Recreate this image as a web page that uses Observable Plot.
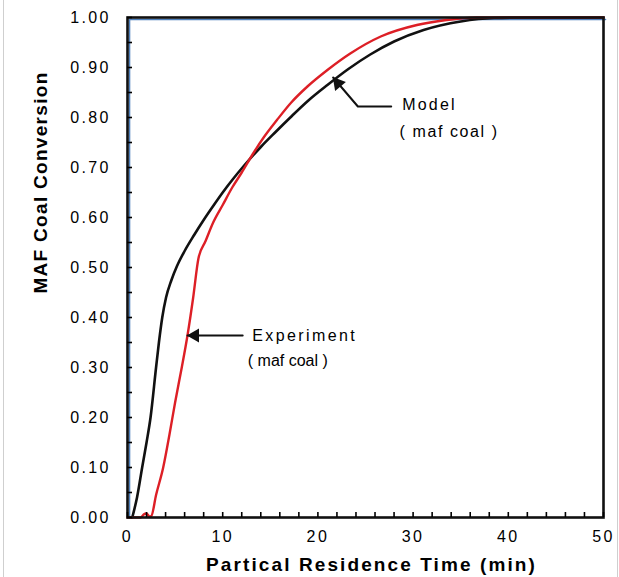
<!DOCTYPE html>
<html>
<head>
<meta charset="utf-8">
<script src="https://cdn.jsdelivr.net/npm/d3@7"></script>
<script src="https://cdn.jsdelivr.net/npm/@observablehq/plot@0.6"></script>
<style>
  html, body { margin: 0; padding: 0; background: #fff; }
  #wrap { position: relative; width: 619px; height: 577px; overflow: hidden; }
  .edge { position: absolute; top: 0; width: 1px; height: 577px; background: #cfcfcf; }
</style>
</head>
<body>
<div id="wrap">
  <div id="chart"></div>
  <div class="edge" style="left:3px"></div>
  <div class="edge" style="left:617px"></div>
</div>
<script>
// ---- Data ----
const modelTime = [0.5, 1.0, 1.54, 2.0, 2.42, 3.0, 3.3, 3.65, 4.05, 4.6, 5.2, 6.0, 7.0, 8.0, 9.0, 10.0, 11.0, 12.3, 14.0, 15.5, 17.1, 19.0, 21.0, 23.2, 25.5, 28.0, 31.1, 35.0, 38.5, 42.0, 50.0];
const modelConv = [0.0, 0.04, 0.10, 0.15, 0.20, 0.30, 0.35, 0.40, 0.44, 0.474, 0.503, 0.533, 0.565, 0.595, 0.623, 0.65, 0.675, 0.705, 0.741, 0.77, 0.80, 0.834, 0.865, 0.897, 0.926, 0.952, 0.975, 0.992, 0.999, 1.0, 1.0];

const expTime = [0.0, 1.4, 1.7, 2.0, 2.3, 2.5, 3.0, 3.75, 4.4, 5.0, 5.7, 6.3, 6.9, 7.45, 8.2, 9.0, 10.0, 11.0, 12.0, 13.1, 14.3, 15.7, 17.2, 18.9, 21.0, 23.4, 26.6, 30.4, 33.5, 36.7, 50.0];
const expConv = [0.0, 0.0, 0.006, 0.008, 0.002, 0.003, 0.045, 0.10, 0.165, 0.23, 0.30, 0.364, 0.44, 0.518, 0.553, 0.59, 0.625, 0.66, 0.69, 0.725, 0.76, 0.795, 0.83, 0.862, 0.895, 0.928, 0.962, 0.985, 0.995, 1.0, 1.0];

const blueTime = [0, 0, 50];
const blueConv = [0.004, 1.0, 1.0];

const xTicks = [0, 10, 20, 30, 40, 50];
const xMinorTicks = [0, 2, 4, 6, 8, 10, 12, 14, 16, 18, 20, 22, 24, 26, 28, 30, 32, 34, 36, 38, 40, 42, 44, 46, 48, 50];
const yTicks = [0, 0.1, 0.2, 0.3, 0.4, 0.5, 0.6, 0.7, 0.8, 0.9, 1.0];
const yMinorTicks = [0, 0.05, 0.1, 0.15, 0.2, 0.25, 0.3, 0.35, 0.4, 0.45, 0.5, 0.55, 0.6, 0.65, 0.7, 0.75, 0.8, 0.85, 0.9, 0.95, 1.0];

const xTitle = "Partical Residence Time (min)";
const yTitle = "MAF Coal Conversion";

// annotations
const labelText = ["Model", "( maf coal )", "Experiment", "( maf coal )"];
const labelTime = [28.85, 28.57, 13.1, 12.64];
const labelConv = [0.826, 0.772, 0.364, 0.314];
const labelSpacing = [2.2, 1.6, 2.4, 0];

const modelArrowTime = [27.7, 24.2, 21.6];
const modelArrowConv = [0.822, 0.822, 0.88];
const expArrowTime = [12.1, 6.3];
const expArrowConv = [0.364, 0.364];

// ---- Build tables ----
const model = modelTime.map((t, i) => ({t, c: modelConv[i]}));
const exp = expTime.map((t, i) => ({t, c: expConv[i]}));
const blue = blueTime.map((t, i) => ({t, c: blueConv[i]}));
const modelArrow = modelArrowTime.map((t, i) => ({t, c: modelArrowConv[i]}));
const expArrow = expArrowTime.map((t, i) => ({t, c: expArrowConv[i]}));

const labelMarks = labelText.map((s, i) =>
  Plot.text([{s, t: labelTime[i], c: labelConv[i]}], {x: "t", y: "c", text: "s", textAnchor: "start", lineAnchor: "middle", fontSize: 16})
);

const chart = Plot.plot({
  width: 619,
  height: 577,
  marginLeft: 127,
  marginRight: 16,
  marginTop: 17,
  marginBottom: 60,
  style: {fontFamily: "'Liberation Sans', Arial, sans-serif", color: "#000", background: "#fff"},
  x: {domain: [0, 50]},
  y: {domain: [0, 1]},
  marks: [
    Plot.line(blue, {x: "t", y: "c", stroke: "#4f81bd", strokeWidth: 1.6, dx: 2, dy: 2}),
    Plot.line(model, {x: "t", y: "c", stroke: "#111", strokeWidth: 2.6, curve: "monotone-x"}),
    Plot.line(exp, {x: "t", y: "c", stroke: "#dd1f26", strokeWidth: 2.4, curve: "monotone-x"}),
    Plot.frame({stroke: "#111", strokeWidth: 2.6}),
    Plot.axisX({ticks: xMinorTicks, tickSize: -5, tickFormat: () => "", strokeWidth: 1.6, label: null}),
    Plot.axisY({ticks: yMinorTicks, tickSize: -5, tickFormat: () => "", strokeWidth: 1.6, label: null}),
    Plot.axisX({ticks: xTicks, tickSize: 0, tickPadding: 13, fontSize: 16, label: null}),
    Plot.axisY({ticks: yTicks, tickSize: 0, tickPadding: 19, fontSize: 16, tickFormat: d => d.toFixed(2), label: null}),
    Plot.text([xTitle], {frameAnchor: "bottom", textAnchor: "middle", dx: 6, dy: 47, lineAnchor: "middle", fontSize: 19, fontWeight: "bold"}),
    Plot.text([yTitle], {frameAnchor: "left", textAnchor: "middle", rotate: -90, dx: -87, dy: -85, lineAnchor: "middle", fontSize: 19, fontWeight: "bold"}),
    Plot.line(modelArrow, {x: "t", y: "c", stroke: "#111", strokeWidth: 2}),
    Plot.line(expArrow, {x: "t", y: "c", stroke: "#111", strokeWidth: 2}),
    Plot.dot([modelArrow[2]], {x: "t", y: "c", symbol: "triangle", r: 5.2, fill: "#111", stroke: "none", rotate: -39.6, dx: 4.8, dy: 5.8}),
    Plot.dot([expArrow[1]], {x: "t", y: "c", symbol: "triangle", r: 5.2, fill: "#111", stroke: "none", rotate: -90, dx: 7.5}),
    ...labelMarks
  ]
});

document.getElementById("chart").appendChild(chart);

// letter spacing to mimic the stretched original typography
const svg = d3.select(chart);
svg.selectAll('g[aria-label="y-axis tick label"] text').attr("letter-spacing", "2.4px").attr("dx", "2.4px");
svg.selectAll('g[aria-label="x-axis tick label"] text').attr("letter-spacing", "2.4px");
const textNodes = svg.selectAll("text").nodes();
textNodes.filter(n => n.textContent === xTitle).forEach(n => n.setAttribute("letter-spacing", "2.1px"));
textNodes.filter(n => n.textContent === yTitle).forEach(n => n.setAttribute("letter-spacing", "1.3px"));
const annotNodes = textNodes.filter(n => labelText.includes(n.textContent));
annotNodes.forEach((n, i) => n.setAttribute("letter-spacing", labelSpacing[i] + "px"));
</script>
</body>
</html>
